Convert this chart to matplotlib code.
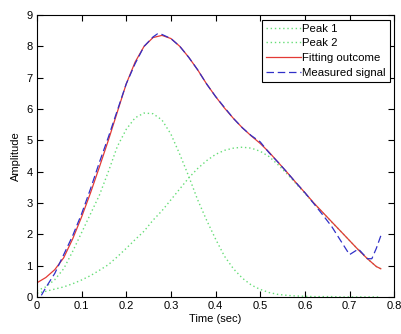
import matplotlib
matplotlib.use("Agg")
import matplotlib.pyplot as plt

plt.rcParams['font.family'] = ['Liberation Sans', 'DejaVu Sans']

# time grid for the fitted components (sec)
t = [0.00, 0.02, 0.04, 0.06, 0.08, 0.10, 0.12, 0.14, 0.16, 0.18,
     0.20, 0.22, 0.24, 0.26, 0.28, 0.30, 0.32, 0.34, 0.36, 0.38,
     0.40, 0.42, 0.44, 0.46, 0.48, 0.50, 0.52, 0.54, 0.56, 0.58,
     0.60, 0.62, 0.64, 0.66, 0.68, 0.70, 0.72, 0.74, 0.76, 0.77]

peak1 = [0.20, 0.32, 0.55, 0.90, 1.45, 2.05, 2.65, 3.25, 4.00, 4.80,
         5.35, 5.72, 5.87, 5.85, 5.65, 5.20, 4.55, 3.85, 3.10, 2.45,
         1.85, 1.30, 0.90, 0.60, 0.38, 0.24, 0.14, 0.08, 0.05, 0.03,
         0.02, 0.01, 0.01, 0.01, 0.00, 0.00, 0.00, 0.00, 0.00, 0.00]

peak2 = [0.12, 0.18, 0.25, 0.32, 0.42, 0.54, 0.68, 0.85, 1.03, 1.28,
         1.55, 1.83, 2.10, 2.45, 2.75, 3.10, 3.45, 3.80, 4.10, 4.35,
         4.55, 4.68, 4.75, 4.78, 4.75, 4.65, 4.48, 4.22, 3.93, 3.62,
         3.31, 2.99, 2.69, 2.39, 2.10, 1.80, 1.50, 1.22, 0.97, 0.90]

fit = [0.45, 0.62, 0.87, 1.25, 1.85, 2.55, 3.32, 4.15, 5.00, 5.90,
       6.80, 7.50, 8.00, 8.28, 8.35, 8.25, 8.00, 7.65, 7.25, 6.80,
       6.40, 6.03, 5.70, 5.40, 5.14, 4.90, 4.62, 4.30, 3.98, 3.65,
       3.33, 3.00, 2.70, 2.40, 2.10, 1.80, 1.50, 1.22, 0.97, 0.90]

# measured signal
t_meas = [0.01, 0.02, 0.04, 0.06, 0.08, 0.10, 0.12, 0.14, 0.16, 0.18,
          0.20, 0.22, 0.24, 0.26, 0.27, 0.28, 0.30, 0.32, 0.34, 0.36,
          0.38, 0.40, 0.42, 0.44, 0.46, 0.48, 0.50, 0.52, 0.54, 0.56,
          0.58, 0.60, 0.62, 0.64, 0.66, 0.68, 0.70, 0.72, 0.74, 0.75,
          0.76, 0.77]
measured = [0.05, 0.30, 0.75, 1.35, 1.95, 2.65, 3.45, 4.30, 5.10, 5.95,
            6.80, 7.45, 8.00, 8.30, 8.40, 8.38, 8.25, 8.00, 7.65, 7.25,
            6.80, 6.40, 6.05, 5.70, 5.40, 5.15, 4.95, 4.60, 4.30, 3.98,
            3.65, 3.33, 2.98, 2.62, 2.25, 1.80, 1.35, 1.53, 1.22, 1.22,
            1.55, 1.95]

xticks = [0, 0.1, 0.2, 0.3, 0.4, 0.5, 0.6, 0.7, 0.8]
xticklabels = ['0', '0.1', '0.2', '0.3', '0.4', '0.5', '0.6', '0.7', '0.8']
yticks = [0, 1, 2, 3, 4, 5, 6, 7, 8, 9]


def make_plot():
    fig = plt.figure(figsize=(4.01, 3.34), dpi=100)
    ax = fig.add_axes([0.092, 0.111, 0.891, 0.844])

    ax.plot(t, peak1, color='#66dd77', linestyle=(0, (1, 2)), linewidth=1.0, label='Peak 1')
    ax.plot(t, peak2, color='#66dd77', linestyle=(0, (1, 2)), linewidth=1.0, label='Peak 2')
    ax.plot(t, fit, color='#e33a35', linewidth=0.9, label='Fitting outcome')
    ax.plot(t_meas, measured, color='#3030c8', linestyle=(0, (6, 3)), linewidth=0.9,
            label='Measured signal')

    ax.set_xlim(0, 0.8)
    ax.set_ylim(0, 9)
    ax.set_xticks(xticks)
    ax.set_xticklabels(xticklabels)
    ax.set_yticks(yticks)
    ax.tick_params(direction='in', top=True, right=True, length=4, width=0.8,
                   labelsize=8, pad=3)
    ax.set_xlabel('Time (sec)', fontsize=8, labelpad=2)
    ax.set_ylabel('Amplitude', fontsize=8, labelpad=4)

    leg = ax.legend(loc='upper right', fontsize=8.2, fancybox=False, framealpha=1,
                    edgecolor='black', handlelength=3.1, handletextpad=0.1,
                    borderpad=0.35, labelspacing=0.43, borderaxespad=0.4)
    leg.get_frame().set_linewidth(0.8)

    fig.savefig("out.png", dpi=100)


if __name__ == "__main__":
    make_plot()
